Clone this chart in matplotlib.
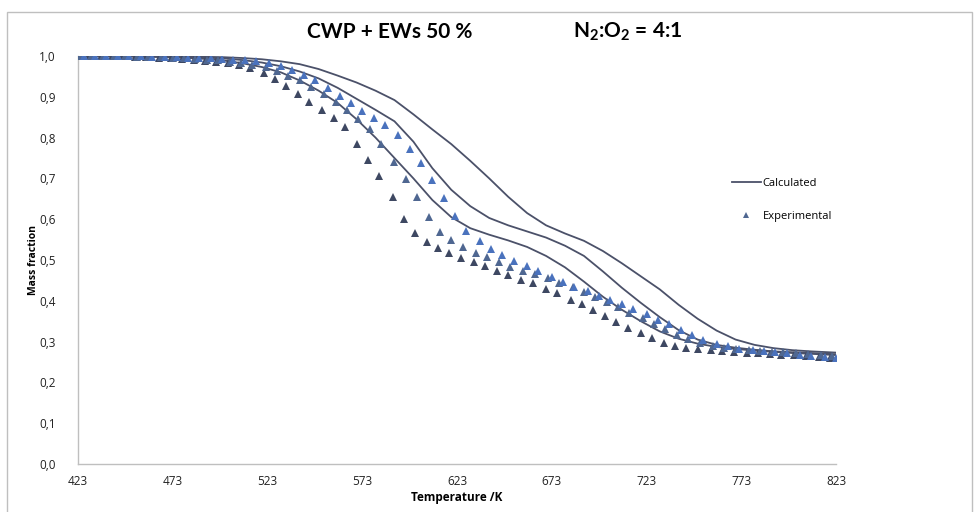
# TGA curves: CWP + EWs 50 %, N2:O2 = 4:1
# calculated vs experimental mass fraction

import matplotlib
matplotlib.use('Agg')
import matplotlib.pyplot as plt
from matplotlib.lines import Line2D
from matplotlib.patches import Rectangle

plt.rcParams['font.family'] = ['Open Sans', 'DejaVu Sans']
plt.rcParams['mathtext.fontset'] = 'custom'
plt.rcParams['mathtext.rm'] = 'Lato:bold'
plt.rcParams['mathtext.default'] = 'rm'

# %% Data
calc_T = [423, 450, 473, 490, 500, 510, 520, 530, 540, 550, 560, 570, 580, 590, 600,
          610, 620, 630, 640, 650, 660, 670, 680, 690, 700, 710, 720, 730, 740, 750,
          760, 770, 780, 790, 800, 810, 823]
calc_fast = [1.0, 0.999, 0.997, 0.993, 0.989, 0.982, 0.973, 0.96, 0.94, 0.915, 0.885,
             0.845, 0.80, 0.75, 0.70, 0.647, 0.605, 0.578, 0.562, 0.548, 0.532, 0.51,
             0.482, 0.447, 0.41, 0.378, 0.35, 0.325, 0.307, 0.295, 0.287, 0.282, 0.278,
             0.275, 0.272, 0.27, 0.267]
calc_mid = [1.0, 0.999, 0.998, 0.996, 0.994, 0.99, 0.984, 0.975, 0.962, 0.945, 0.922,
            0.895, 0.868, 0.84, 0.79, 0.725, 0.672, 0.632, 0.603, 0.585, 0.57, 0.555,
            0.535, 0.51, 0.472, 0.432, 0.395, 0.36, 0.328, 0.305, 0.292, 0.285, 0.28,
            0.276, 0.274, 0.272, 0.269]
calc_slow = [1.0, 1.0, 0.999, 0.998, 0.997, 0.995, 0.992, 0.987, 0.98, 0.968, 0.952,
             0.935, 0.915, 0.892, 0.857, 0.82, 0.784, 0.743, 0.70, 0.655, 0.615, 0.585,
             0.565, 0.547, 0.522, 0.492, 0.46, 0.428, 0.39, 0.356, 0.327, 0.305, 0.292,
             0.284, 0.279, 0.276, 0.273]

exp_dark_T = [423, 429, 435, 441, 447, 453, 459, 466, 472, 478, 484, 490, 496, 502, 508,
              514, 521, 527, 533, 539, 545, 552, 558, 564, 570, 576, 582, 589, 595, 601,
              607, 613, 619, 625, 632, 638, 644, 650, 657, 663, 670, 676, 683, 689, 695,
              701, 707, 713, 720, 726, 732, 738, 744, 750, 757, 763, 769, 776, 782, 788,
              794, 801, 807, 814, 820]
exp_dark = [1.0, 1.0, 1.0, 0.999, 0.999, 0.998, 0.997, 0.996, 0.995, 0.993, 0.991, 0.988,
            0.985, 0.982, 0.978, 0.97, 0.959, 0.944, 0.926, 0.906, 0.887, 0.868, 0.849,
            0.825, 0.785, 0.745, 0.705, 0.655, 0.6, 0.565, 0.545, 0.53, 0.517, 0.505,
            0.494, 0.485, 0.473, 0.463, 0.452, 0.443, 0.43, 0.418, 0.402, 0.392, 0.377,
            0.363, 0.349, 0.333, 0.32, 0.308, 0.297, 0.29, 0.285, 0.281, 0.279, 0.277,
            0.275, 0.273, 0.271, 0.27, 0.268, 0.266, 0.265, 0.263, 0.261]

exp_mid_T = [424, 430, 436, 442, 448, 454, 460, 467, 473, 479, 485, 491, 497, 503, 509,
             515, 522, 528, 534, 540, 546, 553, 559, 565, 571, 577, 583, 590, 596, 602,
             608, 614, 620, 626, 633, 639, 645, 651, 658, 664, 671, 677, 684, 690, 696,
             702, 708, 714, 721, 727, 733, 739, 745, 751, 758, 764, 770, 777, 783, 789,
             795, 802, 808, 815, 821]
exp_mid = [1.0, 1.0, 1.0, 0.999, 0.999, 0.998, 0.998, 0.997, 0.996, 0.995, 0.993, 0.991,
           0.989, 0.986, 0.983, 0.979, 0.972, 0.963, 0.952, 0.94, 0.925, 0.907, 0.888,
           0.868, 0.845, 0.822, 0.785, 0.74, 0.698, 0.655, 0.606, 0.569, 0.549, 0.533,
           0.518, 0.507, 0.495, 0.484, 0.474, 0.466, 0.455, 0.444, 0.433, 0.422, 0.41,
           0.398, 0.386, 0.371, 0.357, 0.343, 0.331, 0.316, 0.306, 0.296, 0.289, 0.284,
           0.281, 0.279, 0.277, 0.275, 0.274, 0.271, 0.269, 0.267, 0.265]

exp_blue_T = [426, 432, 438, 444, 450, 456, 462, 469, 475, 481, 487, 493, 499, 505, 511,
              517, 524, 530, 536, 542, 548, 555, 561, 567, 573, 579, 585, 592, 598, 604,
              610, 616, 622, 628, 635, 641, 647, 653, 660, 666, 673, 679, 685, 692, 698,
              704, 710, 716, 723, 729, 735, 741, 747, 753, 760, 766, 772, 779, 785, 791,
              797, 804, 810, 817, 823]
exp_blue = [1.0, 1.0, 1.0, 1.0, 0.999, 0.999, 0.998, 0.998, 0.997, 0.996, 0.995, 0.994,
            0.992, 0.99, 0.989, 0.987, 0.982, 0.975, 0.966, 0.954, 0.94, 0.922, 0.902,
            0.884, 0.866, 0.848, 0.832, 0.806, 0.772, 0.738, 0.697, 0.652, 0.607, 0.572,
            0.546, 0.528, 0.512, 0.498, 0.485, 0.472, 0.459, 0.447, 0.435, 0.423, 0.412,
            0.401, 0.391, 0.381, 0.367, 0.354, 0.342, 0.329, 0.317, 0.305, 0.295, 0.288,
            0.283, 0.279, 0.276, 0.274, 0.271, 0.268, 0.265, 0.263, 0.261]

x_ticks = [423, 473, 523, 573, 623, 673, 723, 773, 823]
y_ticks = [0.0, 0.1, 0.2, 0.3, 0.4, 0.5, 0.6, 0.7, 0.8, 0.9, 1.0]

line_col = '#4b5169'
dark_col = '#3e4862'
mid_col = '#4f6791'
blue_col = '#4a72bd'
grey = '#bfbfbf'

# %% Plot
fig = plt.figure(figsize=(9.77, 5.12), dpi=100)
fig.patches.append(Rectangle((7 / 977, -0.01), 965 / 977, 1.01 - 12 / 512, transform=fig.transFigure,
                             fill=False, edgecolor=grey, linewidth=1.0))
ax = fig.add_axes([78 / 977, 1 - 464 / 512, (836 - 78) / 977, (464 - 56) / 512])

for yv in (calc_fast, calc_mid, calc_slow):
    ax.plot(calc_T, yv, color=line_col, lw=1.3, zorder=2)

ms = 5.4
ax.plot(exp_dark_T, exp_dark, ls='none', marker='^', ms=ms, color=dark_col, mew=0, zorder=3)
ax.plot(exp_mid_T, exp_mid, ls='none', marker='^', ms=ms, color=mid_col, mew=0, zorder=3)
ax.plot(exp_blue_T, exp_blue, ls='none', marker='^', ms=ms, color=blue_col, mew=0, zorder=3)

ax.set_xlim(423, 823)
ax.set_ylim(0, 1.0)
ax.set_xticks(x_ticks)
ax.set_xticklabels([str(t) for t in x_ticks])
ax.set_yticks(y_ticks)
ax.set_yticklabels([f'{v:.1f}'.replace('.', ',') for v in y_ticks])
ax.tick_params(length=0, labelsize=8.5, colors='#222222')
ax.tick_params(axis='y', pad=16)
ax.tick_params(axis='x', pad=8)
for s in ('top', 'right'):
    ax.spines[s].set_visible(False)
for s in ('left', 'bottom'):
    ax.spines[s].set_color(grey)
    ax.spines[s].set_linewidth(1.0)

ax.set_xlabel('Temperature /K', fontsize=8.5, fontweight='bold', labelpad=2)
ax.set_ylabel('Mass fraction', fontsize=7.5, fontweight='bold')
ax.yaxis.set_label_coords(-0.051, 0.5)

fig.text(390 / 977, 1 - 32 / 512, 'CWP + EWs 50 %', fontsize=15, fontweight='bold',
         family='Lato', ha='center', va='center')
fig.text(628 / 977, 1 - 32 / 512, 'N$_2$:O$_2$ = 4:1', fontsize=15, fontweight='bold',
         family='Lato', ha='center', va='center')

handles = [Line2D([], [], color=line_col, lw=1.3),
           Line2D([], [], ls='none', marker='^', ms=4.5, color=mid_col, mew=0)]
fig.legend(handles, ['Calculated', 'Experimental'], loc='upper left',
           bbox_to_anchor=(722 / 977, 1 - 168 / 512), frameon=False, fontsize=8,
           handlelength=2.6, handletextpad=0.15, labelspacing=2.0)

fig.savefig('out.png', dpi=100)
